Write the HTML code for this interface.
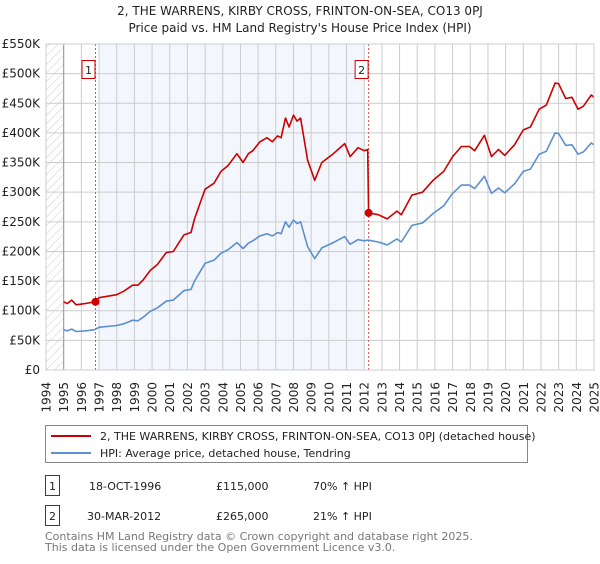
<!DOCTYPE html>
<html><head><meta charset="utf-8"><style>
body{margin:0;background:#fff;font-family:"DejaVu Sans","Liberation Sans",sans-serif;}
svg text{font-family:"DejaVu Sans","Liberation Sans",sans-serif;}
</style></head><body>
<svg id="chart" width="600" height="560" xmlns="http://www.w3.org/2000/svg">
<defs><pattern id="hatch" width="6" height="6" patternUnits="userSpaceOnUse" patternTransform="rotate(45)"><line x1="0" y1="0" x2="0" y2="6" stroke="#ccc" stroke-width="1"/></pattern></defs>
<text x="300" y="15" text-anchor="middle" font-size="12" fill="#222">2, THE WARRENS, KIRBY CROSS, FRINTON-ON-SEA, CO13 0PJ</text>
<text x="300" y="32" text-anchor="middle" font-size="12" fill="#222">Price paid vs. HM Land Registry's House Price Index (HPI)</text>
<g id="plot"></g>
<rect x="45.5" y="425.5" width="482" height="37" fill="#fff" stroke="#888"/>
<line x1="51" y1="436" x2="91" y2="436" stroke="#cc0000" stroke-width="2"/>
<text x="100" y="440" font-size="11" fill="#222">2, THE WARRENS, KIRBY CROSS, FRINTON-ON-SEA, CO13 0PJ (detached house)</text>
<line x1="51" y1="453" x2="91" y2="453" stroke="#5b8fd0" stroke-width="2"/>
<text x="100" y="457" font-size="11" fill="#222">HPI: Average price, detached house, Tendring</text>
<rect x="45.5" y="475.5" width="14" height="20" fill="#fff" stroke="#cc0000"/>
<text x="52.5" y="490" text-anchor="middle" font-size="11" fill="#222">1</text>
<text x="89" y="490" font-size="11" fill="#222">18-OCT-1996</text>
<text x="216" y="490" font-size="11" fill="#222">£115,000</text>
<text x="313" y="490" font-size="11" fill="#222">70% ↑ HPI</text>
<rect x="45.5" y="505.5" width="14" height="20" fill="#fff" stroke="#cc0000"/>
<text x="52.5" y="520" text-anchor="middle" font-size="11" fill="#222">2</text>
<text x="87" y="520" font-size="11" fill="#222">30-MAR-2012</text>
<text x="216" y="520" font-size="11" fill="#222">£265,000</text>
<text x="313" y="520" font-size="11" fill="#222">21% ↑ HPI</text>
<text x="45" y="540" font-size="11" fill="#777">Contains HM Land Registry data © Crown copyright and database right 2025.</text>
<text x="45" y="551" font-size="11" fill="#777">This data is licensed under the Open Government Licence v3.0.</text>
</svg>
<script>
const dates=[1995.0,1995.2,1995.45,1995.7,1996.2,1996.75,1997.0,1998.0,1998.4,1998.9,1999.2,1999.5,1999.9,2000.3,2000.8,2001.2,2001.8,2002.2,2002.4,2002.7,2003.0,2003.5,2003.9,2004.3,2004.8,2005.15,2005.45,2005.7,2006.1,2006.5,2006.8,2007.1,2007.3,2007.55,2007.75,2008.0,2008.2,2008.4,2008.8,2009.2,2009.6,2010.25,2010.9,2011.2,2011.65,2012.0,2012.2,2012.25,2012.8,2013.3,2013.85,2014.1,2014.7,2015.3,2015.9,2016.5,2017.0,2017.5,2017.95,2018.25,2018.8,2019.2,2019.6,2019.95,2020.5,2021.0,2021.4,2021.9,2022.3,2022.8,2023.0,2023.4,2023.75,2024.1,2024.4,2024.85,2025.0];
const propertyValues=[115,112,118,110,112,115,122,127,133,143,143,152,168,178,198,200,228,232,255,280,305,315,335,345,365,350,365,370,385,392,385,395,392,425,410,430,420,425,354,320,350,365,382,360,375,370,372,265,262,255,268,262,295,300,320,335,360,377,377,370,396,360,372,362,380,405,410,440,447,484,483,458,460,440,445,464,460];
const hpiValues=[68,66,69,65,66,68,72,75,78,84,83,89,99,105,116,118,134,136,150,165,180,185,197,203,215,205,214,218,226,230,226,232,230,250,241,253,247,250,208,188,206,215,225,212,220,218,219,219,216,211,221,216,244,248,264,277,298,312,312,306,327,298,307,299,314,335,339,364,369,400,399,379,380,364,368,383,380];
const yTicks=[0,50,100,150,200,250,300,350,400,450,500,550];
const yTickLabels=["£0","£50K","£100K","£150K","£200K","£250K","£300K","£350K","£400K","£450K","£500K","£550K"];
const xYears=[1994,1995,1996,1997,1998,1999,2000,2001,2002,2003,2004,2005,2006,2007,2008,2009,2010,2011,2012,2013,2014,2015,2016,2017,2018,2019,2020,2021,2022,2023,2024,2025];
const saleDates=[1996.8,2012.25];
const salePrices=[115,265];
const saleLabels=["1","2"];

const L=46,R=594,T=44,B=370;
const x=v=>L+(v-1994)/(2025-1994)*(R-L);
const y=v=>B-v/550*(B-T);
const NS="http://www.w3.org/2000/svg";
const g=document.getElementById('plot');
function mk(tag,attrs){const e=document.createElementNS(NS,tag);for(const k in attrs)e.setAttribute(k,attrs[k]);g.appendChild(e);return e;}
mk('rect',{x:L,y:T,width:R-L,height:B-T,fill:'#fff'});
mk('rect',{x:L,y:T,width:x(1995)-L,height:B-T,fill:'url(#hatch)'});
const sh=mk('rect',{x:x(1997.0),y:T,width:x(2012.0)-x(1997.0),height:B-T,fill:'#f0f4fc',opacity:0.8});


yTicks.forEach((t,i)=>{
  const ln=mk('line',{x1:L,x2:R,y1:y(t),y2:y(t),stroke:'#ccc','stroke-width':1});
  
  
  const tx=mk('text',{x:40,y:y(t)+4,'text-anchor':'end','font-size':12,fill:'#222'});
  tx.textContent=yTickLabels[i];
  
  
});
xYears.forEach(yr=>{
  const ln=mk('line',{x1:x(yr),x2:x(yr),y1:T,y2:B,stroke:'#ccc','stroke-width':1});
  
  
  const tx=mk('text',{x:0,y:0,'text-anchor':'end','font-size':12,fill:'#222',transform:`translate(${x(yr)+4.5},382) rotate(-90)`});
  tx.textContent=yr;
  
  
});
mk('line',{x1:x(1995),x2:x(1995),y1:T,y2:B,stroke:'#999'});
saleDates.forEach((d,i)=>{
  const vl=mk('line',{x1:x(d),x2:x(d),y1:T,y2:B,stroke:'#e05050','stroke-dasharray':'2,2','stroke-width':1});
  
  
  const bx=mk('rect',{x:x(d)-13.5,y:60.5,width:13,height:18,fill:'#fff',stroke:'#cc0000'});
  
  
  const t=mk('text',{x:x(d)-7,y:74,'text-anchor':'middle','font-size':11,fill:'#222'});
  t.textContent=saleLabels[i];
});
function path(vals,color,name){
  const p=mk('path',{d:dates.map((d,i)=>(i?'L':'M')+x(d).toFixed(1)+','+y(vals[i]).toFixed(1)).join(''),fill:'none',stroke:color,'stroke-width':1.6,'stroke-linejoin':'round'});
  
  
}
path(hpiValues,'#5b8fd0','hpi-line');
path(propertyValues,'#cc0000','property-line');
saleDates.forEach((d,i)=>{
  const c=mk('circle',{cx:x(d),cy:y(salePrices[i]),r:4,fill:'#cc0000'});
  
  
});
mk('rect',{x:L,y:T,width:R-L,height:B-T,fill:'none',stroke:'#ccc'});
</script>
</body></html>
